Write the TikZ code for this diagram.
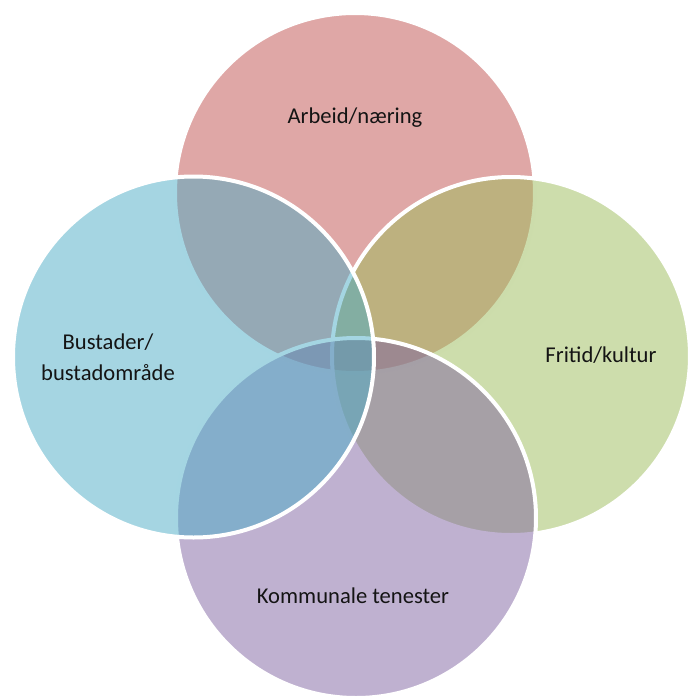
\documentclass[tikz,border=0pt]{standalone}
\usepackage{fontspec}
\setmainfont{Carlito}
\definecolor{arbeidred}{HTML}{C0504D}
\definecolor{bustadblue}{HTML}{4BACC6}
\definecolor{fritidgreen}{HTML}{9BBB59}
\definecolor{tenestepurple}{HTML}{8064A2}
\begin{document}
\begin{tikzpicture}[x=0.5pt,y=-0.5pt,
        venn/.style={draw=white,line width=2pt,fill opacity=0.5},
        vennlabel/.style={align=center,text=black!92,font=\fontsize{11.3}{15.5}\selectfont}]
        \useasboundingbox (0,0) rectangle (689,698);
        \draw[venn,fill=arbeidred] (355,193) circle[radius=90pt];
        \draw[venn,fill=fritidgreen] (511,356) circle[radius=89.5pt];
        \draw[venn,fill=tenestepurple] (356,518) circle[radius=90pt];
        \draw[venn,fill=bustadblue] (193.5,357) circle[radius=90.25pt];
        \node[vennlabel] (arbeid) at (355,118) {Arbeid/næring};
        \node[vennlabel] (bustad) at (108,357) {Bustader/\\bustadområde};
        \node[vennlabel] (fritid) at (601,355) {Fritid/kultur};
        \node[vennlabel] (teneste) at (353,596) {Kommunale tenester};
        \end{tikzpicture}
\end{document}
